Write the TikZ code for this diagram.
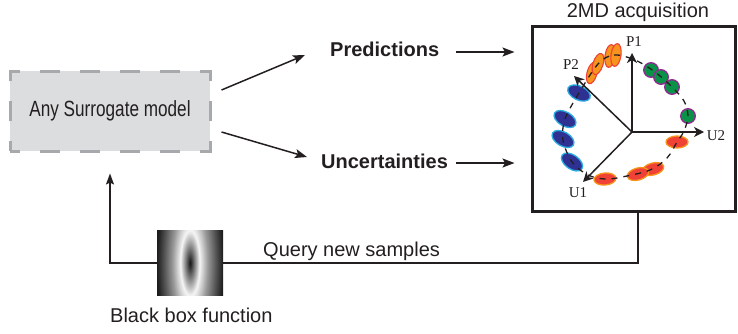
\documentclass[tikz,border=0pt]{standalone}
\usepackage{graphicx}
\usepackage{fontspec}
\setmainfont{Liberation Sans}
\newfontfamily\seriffont{Liberation Serif}
\usetikzlibrary{arrows.meta,calc}
\definecolor{ink}{HTML}{231F20}
\definecolor{surrfill}{HTML}{DCDDDE}
\definecolor{surrdash}{HTML}{A7A9AC}
\definecolor{gfill}{HTML}{0A9348}
\definecolor{gline}{HTML}{92278F}
\definecolor{ofill}{HTML}{F7941D}
\definecolor{oline}{HTML}{EF4136}
\definecolor{bfill}{HTML}{2E3192}
\definecolor{bline}{HTML}{29ABE2}
\pgfdeclareradialshading{bbfshade}{\pgfpoint{0bp}{0bp}}{%
  color(0bp)=(black!92);
  color(2.5bp)=(black!55);
  color(6bp)=(black!4);
  color(11bp)=(black!40);
  color(16bp)=(black!66);
  color(20.5bp)=(black!88);
  color(25bp)=(black!92);
  color(50bp)=(black!92)}
\begin{document}
\begin{tikzpicture}[x=1pt,y=-1pt,
  lbl/.style={font=\fontsize{20}{24}\selectfont, text=ink, inner sep=0pt},
  boldlbl/.style={font=\fontsize{20}{24}\selectfont\bfseries, text=ink, inner sep=0pt},
  axl/.style={font=\seriffont\fontsize{15}{18}\selectfont, text=ink, inner sep=0pt},
  arr/.style={draw=ink, line width=1.5pt, -{Stealth[length=12pt,width=9pt,inset=2.5pt]}},
  axis/.style={draw=ink, line width=1.5pt, -{Stealth[length=10pt,width=10pt,inset=3pt]}},
  surrbox/.style={rectangle, fill=surrfill, draw=surrdash, line width=3pt,
    dash pattern=on 20pt off 20pt, dash phase=10pt,
    minimum width=200pt, minimum height=80pt, inner sep=0pt},
  mdbox/.style={rectangle, draw=ink, line width=3pt, minimum width=203pt, minimum height=185pt},
  gr/.style={fill=gfill, draw=gline, line width=1.3pt},
  orl/.style={fill=ofill, draw=oline, line width=1.1pt},
  bl/.style={fill=bfill, draw=bline, line width=1.3pt},
  rd/.style={fill=oline, draw=ofill, line width=1.3pt},
  bbfimg/.style={rectangle, inner sep=0pt, minimum width=66pt, minimum height=65pt,
    path picture={\shade[shading=bbfshade] (path picture bounding box.center) ellipse [x radius=40, y radius=135];}},
  loopline/.style={draw=ink, line width=1.4pt},
]
\useasboundingbox (0,0) rectangle (738,333);

% surrogate model box
\node[surrbox] (surr) at (110,111) {\fontsize{22}{26}\selectfont\color{ink}\scalebox{0.78}[1]{Any Surrogate model}};

% outputs
\node[boldlbl, anchor=base west] (pred) at (330,56) {Predictions};
\node[boldlbl, anchor=base west] (unc) at (321,168) {Uncertainties};

% 2MD box
\node[mdbox] (md) at (633.5,118.5) {};
\node[lbl, anchor=base] (title) at (638,17) {2MD acquisition};

\draw[arr] ([shift={(10,-21)}]surr.east) -- ([shift={(-25,-1)}]pred.base west);
\draw[arr] ([shift={(10,21)}]surr.east) -- ([shift={(-14,-11)}]unc.base west);
\draw[arr] ([shift={(17,-4)}]pred.base east) -- ($(md.west |- pred.base)+(-16,-4)$);
\draw[arr] ([shift={(8,-5)}]unc.base east) -- ($(md.west |- unc.base)+(-16,-5)$);

% inner 2MD picture
\coordinate (O) at (632,132);
\coordinate (p1) at (632,53);
\coordinate (u2) at (704,132);
\coordinate (p2) at (574,76);
\coordinate (u1) at (583,182);

% green circles
\draw[gr] (651,70) circle (7.3);
\draw[gr] (661,77) circle (7.3);
\draw[gr] (672,87) circle (7.3);
\draw[gr] (688,116) circle (7.3);
% orange ellipses
\draw[orl, rotate around={-15:(592,73)}] (592,73) ellipse [x radius=5, y radius=11];
\draw[orl, rotate around={-18:(598,64)}] (598,64) ellipse [x radius=5, y radius=11];
\draw[orl, rotate around={-8:(610,56)}] (610,56) ellipse [x radius=5, y radius=11.5];
\draw[orl, rotate around={-8:(616,55)}] (616,55) ellipse [x radius=5, y radius=11.5];
% blue ellipses
\draw[bl, rotate around={-25:(579,93)}] (579,93) ellipse [x radius=12, y radius=7];
\draw[bl, rotate around={-30:(565,119)}] (565,119) ellipse [x radius=12, y radius=7];
\draw[bl, rotate around={-30:(563,139)}] (563,139) ellipse [x radius=12, y radius=7];
\draw[bl, rotate around={-35:(572,162)}] (572,162) ellipse [x radius=12, y radius=7];
% red ellipses
\draw[rd] (677,142) ellipse [x radius=11, y radius=6];
\draw[rd, rotate around={15:(653,169)}] (653,169) ellipse [x radius=11, y radius=6];
\draw[rd, rotate around={15:(638,174)}] (638,174) ellipse [x radius=11, y radius=6];
\draw[rd, rotate around={5:(605,179)}] (605,179) ellipse [x radius=11, y radius=6];

% dashed trajectory
\draw[ink, line width=1.3pt, dash pattern=on 6pt off 6pt]
  plot[smooth cycle, tension=0.55] coordinates {(598,64) (614,55) (635,60) (655,72) (672,87) (684,101) (688,116) (684,131) (677,142) (667,158) (650,170) (622,177) (605,179) (588,175) (572,162) (563,140) (565,119) (579,93)};

% axes
\draw[axis] (O) -- (p1);
\draw[axis] (O) -- (u2);
\draw[axis] (O) -- (p2);
\draw[axis] (O) -- (u1);
\node[axl] (lp1) at (634,42) {P1};
\node[axl] (lp2) at (571,65) {P2};
\node[axl] (lu2) at (716,136) {U2};
\node[axl] (lu1) at (578,193) {U1};

% feedback loop
\coordinate (q) at (638,263);
\node[bbfimg] (bbf) at (190,263) {};
\draw[loopline] (md.south -| q) -- (q) -- (bbf.east);
\draw[loopline, -{Stealth[length=11pt,width=8pt,inset=2pt]}] (bbf.west) -| ([shift={(0,21)}]surr.south);
\node[lbl, anchor=base west] (query) at (263,256) {Query new samples};
\node[lbl, anchor=base west] (bbflbl) at (110,322) {Black box function};
\end{tikzpicture}
\end{document}
